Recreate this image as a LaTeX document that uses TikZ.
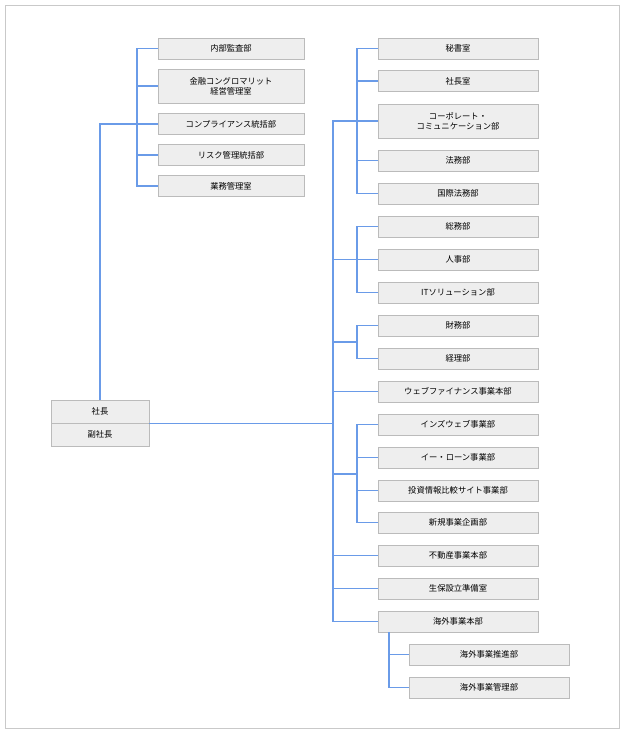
\documentclass[tikz,border=0pt]{standalone}
\usepackage{fontspec}
\newfontfamily\jp{Noto Sans CJK JP}
\definecolor{ln}{HTML}{6A9BE8}
\definecolor{bx}{HTML}{EEEEEE}
\definecolor{bd}{HTML}{BBBBBB}
\begin{document}
\begin{tikzpicture}[x=1pt,y=-1pt,
  box/.style={draw=bd,fill=bx,line width=0.6pt,minimum height=21pt,inner sep=1pt,align=center,font=\jp\fontsize{8.3}{10}\selectfont},
  lb/.style={box,minimum width=146pt},
  rb/.style={box,minimum width=160pt},
  conn/.style={draw=ln,line width=1.2pt}]
\useasboundingbox (0,0) rectangle (625,734);
\fill[white] (0,0) rectangle (625,734);
\draw[draw=bd!80,line width=0.8pt] (5.5,5.5) rectangle (619.5,728.5);
% president
\node[box,minimum width=98pt,minimum height=23pt] (p1) at (100,411.5) {社長};
\node[box,minimum width=98pt,minimum height=23pt] (p2) at (100,434.5) {副社長};
% left column
\node[lb] (l1) at (231,48.5) {内部監査部};
\node[lb,minimum height=34pt] (l2) at (231,86) {金融コングロマリット\\経営管理室};
\node[lb] (l3) at (231,124) {コンプライアンス統括部};
\node[lb] (l4) at (231,155) {リスク管理統括部};
\node[lb] (l5) at (231,186) {業務管理室};
\coordinate (lv) at (137,0);
\draw[conn] (p1.north) |- (l3.west);
\draw[conn] (l1.west) -| (lv|-l5.west) -- (l5.west);
\foreach \n in {l2,l3,l4} \draw[conn] (lv|-\n.west) -- (\n.west);
% right column
\node[rb] (r1) at (458,48.5) {秘書室};
\node[rb] (r2) at (458,81) {社長室};
\node[rb,minimum height=34pt] (r3) at (458,121) {コーポレート・\\コミュニケーション部};
\node[rb] (r4) at (458,160.5) {法務部};
\node[rb] (r5) at (458,193.5) {国際法務部};
\node[rb] (r6) at (458,226.5) {総務部};
\node[rb] (r7) at (458,259.5) {人事部};
\node[rb] (r8) at (458,292.5) {ITソリューション部};
\node[rb] (r9) at (458,325.5) {財務部};
\node[rb] (r10) at (458,358.5) {経理部};
\node[rb] (r11) at (458,391.5) {ウェブファイナンス事業本部};
\node[rb] (r12) at (458,424.5) {インズウェブ事業部};
\node[rb] (r13) at (458,457.5) {イー・ローン事業部};
\node[rb] (r14) at (458,490.5) {投資情報比較サイト事業部};
\node[rb] (r15) at (458,522.5) {新規事業企画部};
\node[rb] (r16) at (458,555.5) {不動産事業本部};
\node[rb] (r17) at (458,588.5) {生保設立準備室};
\node[rb] (r18) at (458,621.5) {海外事業本部};
\node[rb] (r19) at (489,654.5) {海外事業推進部};
\node[rb] (r20) at (489,687.5) {海外事業管理部};
\coordinate (mv) at (333,0);
\coordinate (gv) at (357,0);
\coordinate (g1) at (357,121);
\coordinate (g2) at (357,259.5);
\coordinate (g3) at (357,342);
\coordinate (g4) at (357,474);
\draw[conn] (p2.east|-p1.south) -- (mv|-p1.south);
\draw[conn] (g1) -- (mv|-g1) -- (mv|-r18.west) -- (r18.west);
% group 1
\draw[conn] (r1.west) -| (gv|-r5.west) -- (r5.west);
\foreach \n in {r2,r3,r4} \draw[conn] (gv|-\n.west) -- (\n.west);
% group 2
\draw[conn] (r6.west) -| (gv|-r8.west) -- (r8.west);
\draw[conn] (g2) -- (r7.west);
\draw[conn] (mv|-g2) -- (g2);
% group 3
\draw[conn] (r9.west) -| (gv|-r10.west) -- (r10.west);
\draw[conn] (mv|-g3) -- (g3);
% group 4
\draw[conn] (r12.west) -| (gv|-r15.west) -- (r15.west);
\foreach \n in {r13,r14} \draw[conn] (gv|-\n.west) -- (\n.west);
\draw[conn] (mv|-g4) -- (g4);
% direct
\foreach \n in {r11,r16,r17} \draw[conn] (mv|-\n.west) -- (\n.west);
% sub
\coordinate (sv) at (389,0);
\draw[conn] (sv|-r18.south) |- (r20.west);
\draw[conn] (sv|-r19.west) -- (r19.west);
\end{tikzpicture}
\end{document}
